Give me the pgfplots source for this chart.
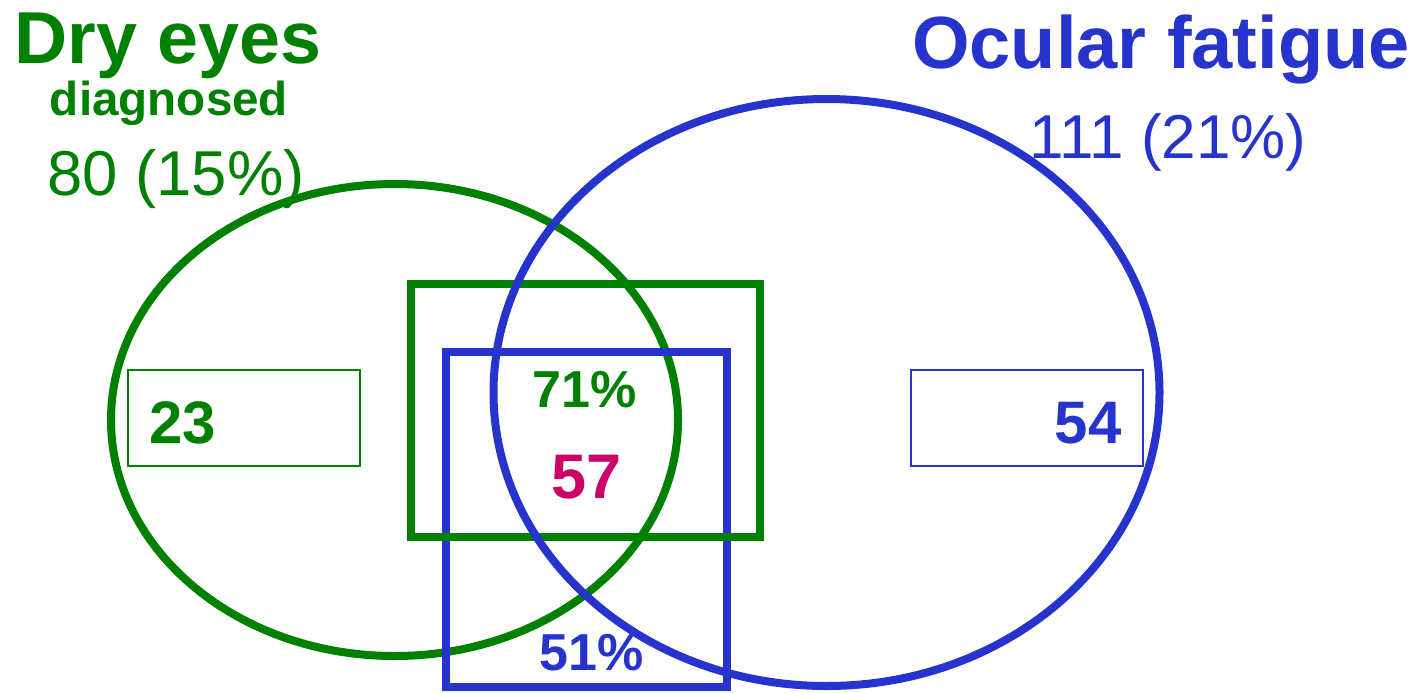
\documentclass[border=0pt]{standalone}
\usepackage{pgfplots}
\pgfplotsset{compat=1.18}
\usepackage{fontspec}
\setmainfont{Liberation Sans}
\definecolor{dgreen}{RGB}{0,128,0}
\definecolor{vblue}{RGB}{38,51,204}
\definecolor{vmag}{RGB}{204,0,102}
\begin{document}
\begin{tikzpicture}
\begin{axis}[
  scale only axis, width=712pt, height=346pt,
  xmin=0, xmax=1424, ymin=0, ymax=692, y dir=reverse,
  hide axis, clip=false,
]
% Ellipses and boxes (pixel coordinates of the reference)
\draw[dgreen, line width=4pt] (axis cs:394.5,420) ellipse [x radius=283.5, y radius=236];
\draw[vblue, line width=4pt] (axis cs:446,352) rectangle (axis cs:727,687);
\draw[dgreen, line width=4pt] (axis cs:410.5,284) rectangle (axis cs:760,537);
\draw[vblue, line width=4pt] (axis cs:826.5,392.5) ellipse [x radius=333, y radius=293.5];
\draw[dgreen, line width=0.75pt] (axis cs:128,370) rectangle (axis cs:360,466);
\draw[vblue, line width=0.75pt] (axis cs:911,370) rectangle (axis cs:1143,466);
% Labels
\node[anchor=base, inner sep=0, text=dgreen, font=\fontsize{36.8pt}{40pt}\selectfont\bfseries] at (axis cs:168,63) {Dry eyes};
\node[anchor=base, inner sep=0, text=dgreen, font=\fontsize{23.8pt}{26pt}\selectfont\bfseries] at (axis cs:169,115) {diagnosed};
\node[anchor=base, inner sep=0, text=dgreen, font=\fontsize{31.7pt}{34pt}\selectfont] at (axis cs:176,195) {80 (15\%)};
\node[anchor=base, inner sep=0, text=vblue, font=\fontsize{37pt}{40pt}\selectfont\bfseries] at (axis cs:1161,68) {Ocular fatigue};
\node[anchor=base, inner sep=0, text=vblue, font=\fontsize{31pt}{34pt}\selectfont] at (axis cs:1168,158) {111 (21\%)};
\node[anchor=base, inner sep=0, text=dgreen, font=\fontsize{30pt}{32pt}\selectfont\bfseries] at (axis cs:183,443) {23};
\node[anchor=base, inner sep=0, text=vblue, font=\fontsize{30pt}{32pt}\selectfont\bfseries] at (axis cs:1088,443) {54};
\node[anchor=base, inner sep=0, text=dgreen, font=\fontsize{26pt}{28pt}\selectfont\bfseries] at (axis cs:585,407) {71\%};
\node[anchor=base, inner sep=0, text=vmag, font=\fontsize{31.5pt}{34pt}\selectfont\bfseries] at (axis cs:587,498) {57};
\node[anchor=base, inner sep=0, text=vblue, font=\fontsize{26pt}{28pt}\selectfont\bfseries] at (axis cs:592,670) {51\%};
\end{axis}
\pgfresetboundingbox
\path (0,0) rectangle (712pt,346pt);
\end{tikzpicture}
\end{document}
